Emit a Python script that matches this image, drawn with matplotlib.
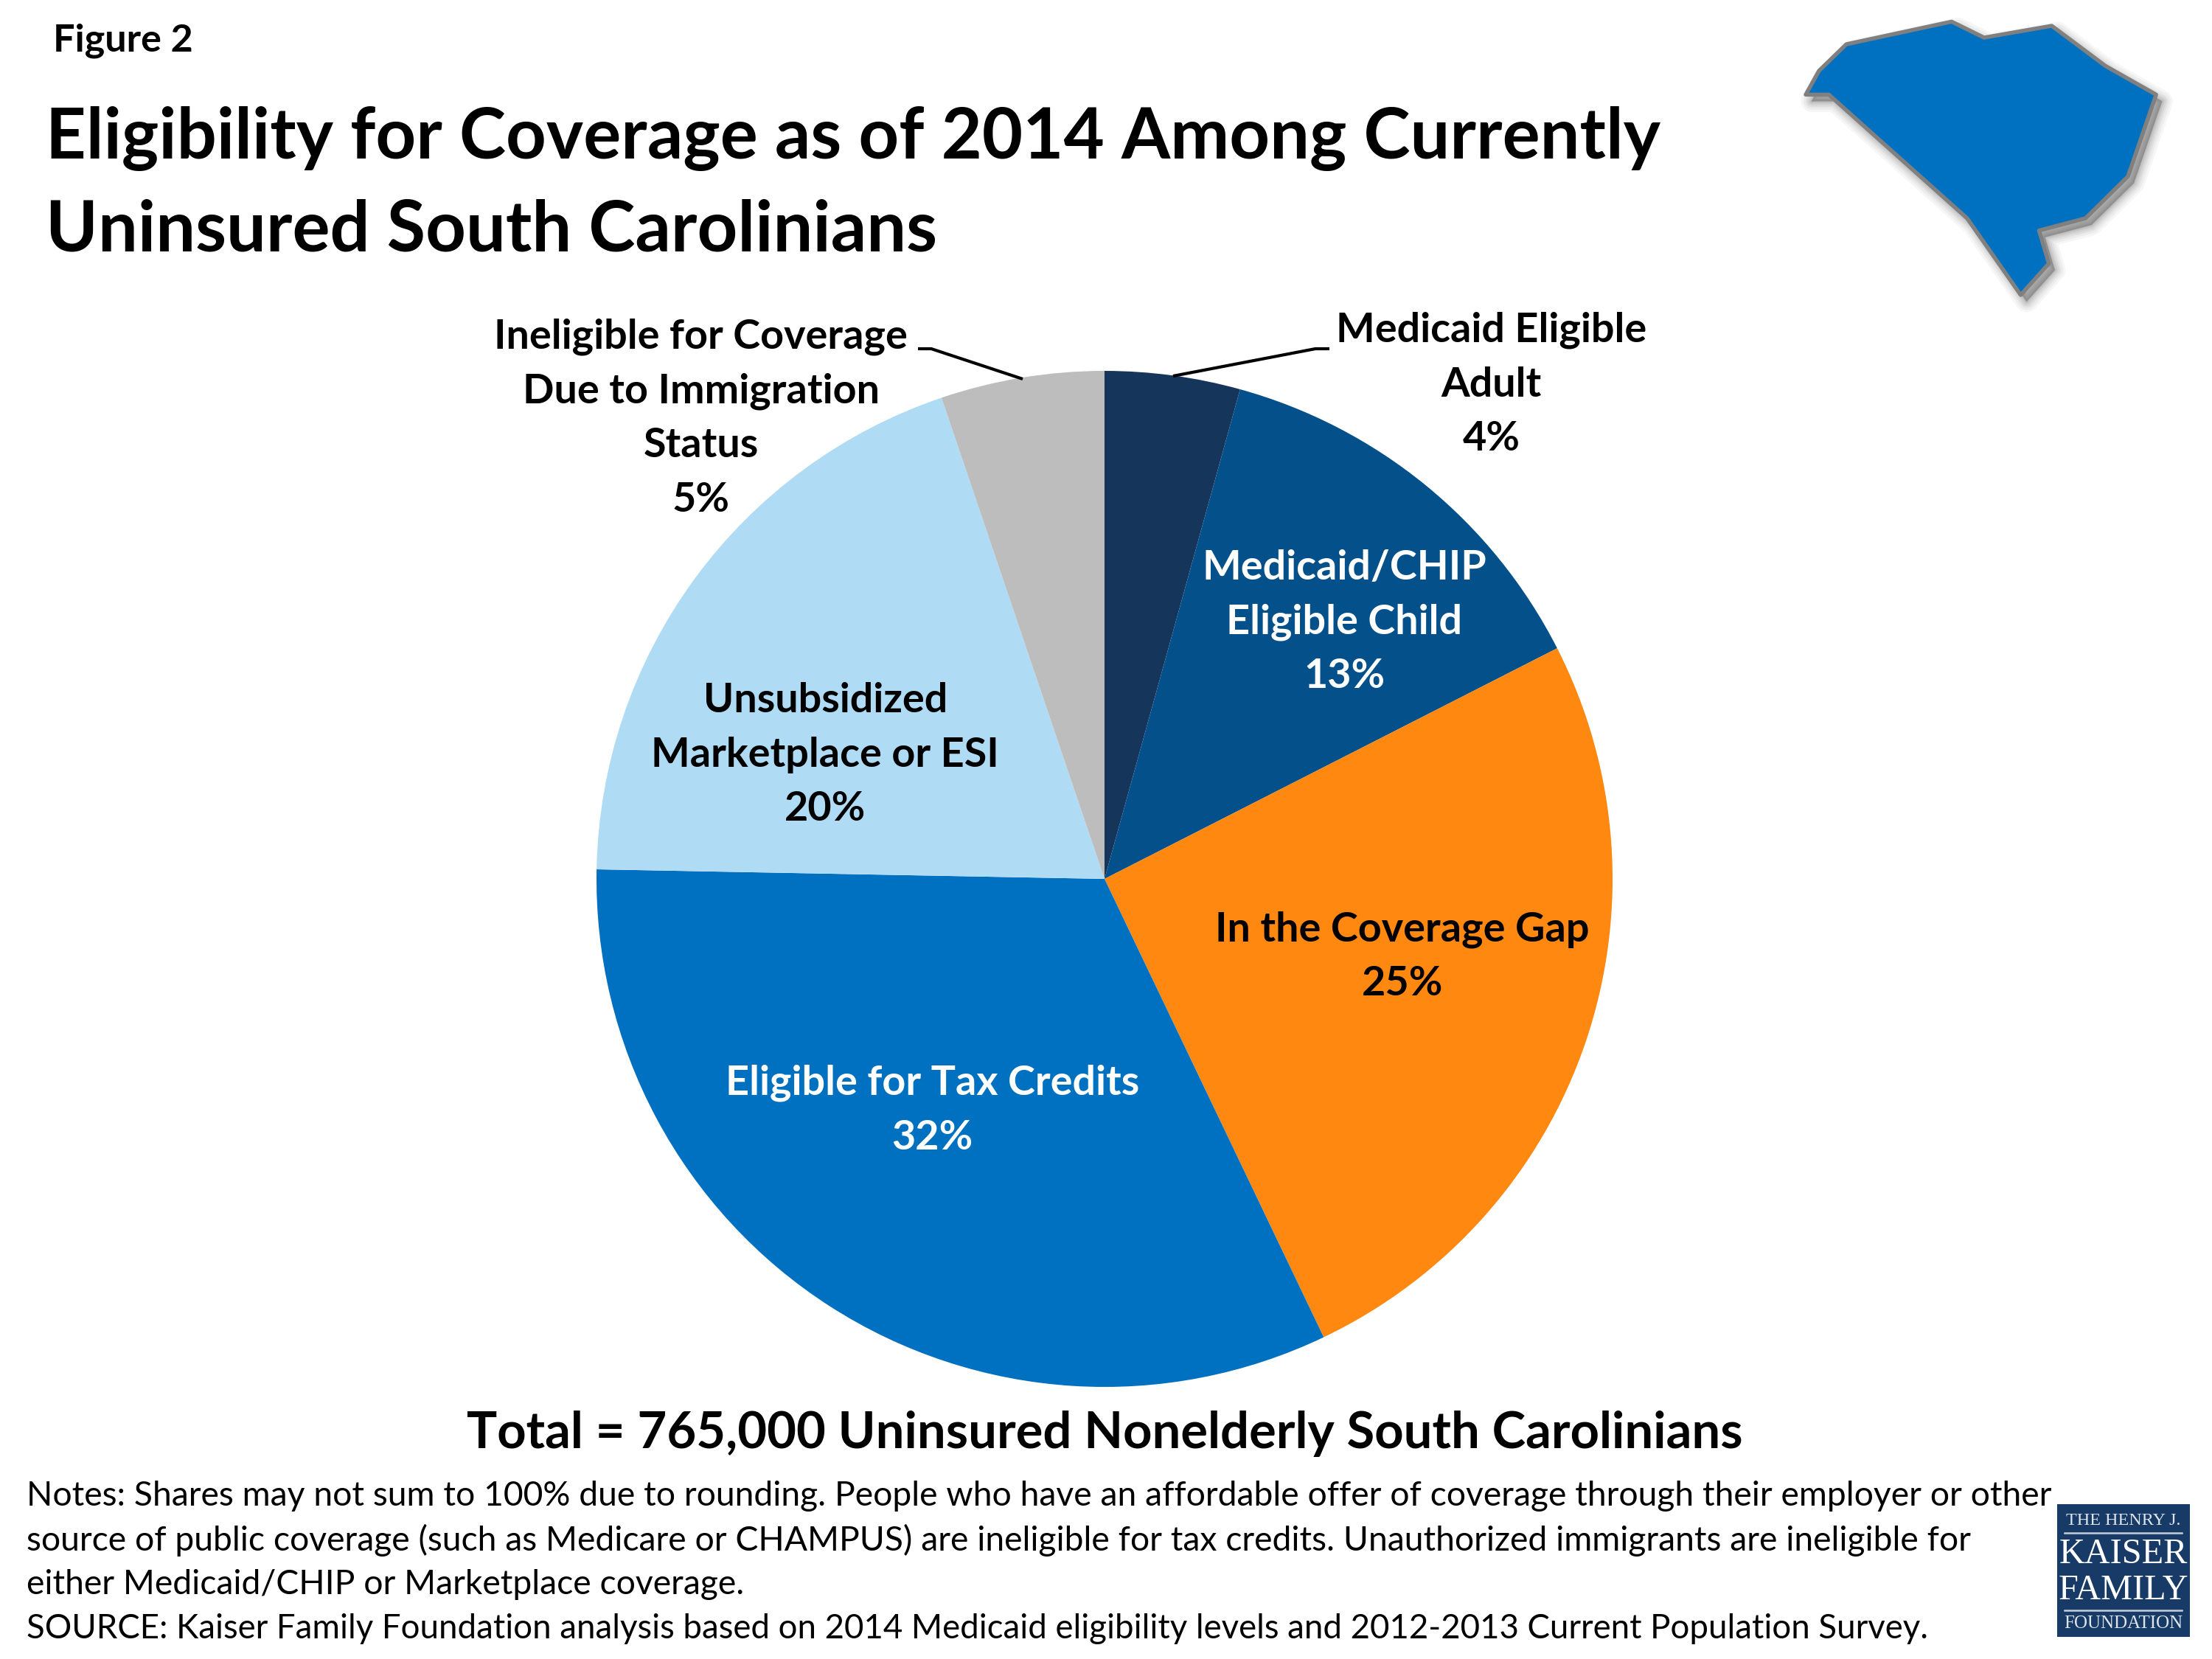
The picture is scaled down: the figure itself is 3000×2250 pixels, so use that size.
import matplotlib
matplotlib.use("Agg")
import matplotlib.pyplot as plt
from matplotlib.patches import Polygon, Rectangle

W, H = 3000, 2250
FONT = "Lato"
plt.rcParams['font.family'] = [FONT, 'DejaVu Sans']

# ---- data ----
categories = ["Medicaid Eligible Adult", "Medicaid/CHIP Eligible Child", "In the Coverage Gap",
              "Eligible for Tax Credits", "Unsubsidized Marketplace or ESI",
              "Ineligible for Coverage Due to Immigration Status"]
shares = [4.3, 13.2, 25.4, 32.4, 19.5, 5.2]
colors = ["#15355B", "#03508A", "#FF8811", "#0071C1", "#AFDCF4", "#BDBDBD"]

title_lines = ["Eligibility for Coverage as of 2014 Among Currently", "Uninsured South Carolinians"]
note_lines = [
    "Notes: Shares may not sum to 100% due to rounding. People who have an affordable offer of coverage through their employer or other",
    "source of public coverage (such as Medicare or CHAMPUS) are ineligible for tax credits. Unauthorized immigrants are ineligible for",
    "either Medicaid/CHIP or Marketplace coverage.",
    "SOURCE: Kaiser Family Foundation analysis based on 2014 Medicaid eligibility levels and 2012-2013 Current Population Survey.",
]

# decorative outline of the state
sc_zoom = [(128,385),(210,385),(700,888),(890,1200),(990,1072),(955,938),(1120,888),(1270,718),
           (1370,385),(1190,268),(1000,105),(760,153),(645,88),(272,180),(175,288)]
sc_shape = [(2400 + x*600/1568, y/3) for x, y in sc_zoom]

fig = plt.figure(figsize=(10, 7.5), dpi=300)

# pie
cx, cy, r = 1498, 1192, 689
pa = fig.add_axes([(cx-r)/W, 1-(cy+r)/H, 2*r/W, 2*r/H], zorder=0)
pa.pie(shares, colors=colors, startangle=90, counterclock=False, radius=1,
       wedgeprops=dict(linewidth=0))
pa.set_xlim(-1, 1); pa.set_ylim(-1, 1); pa.set_aspect("equal"); pa.axis("off")

bg = fig.add_axes([0, 0, 1, 1], zorder=1)
bg.set_xlim(0, W); bg.set_ylim(H, 0); bg.axis("off")

def T(x, y, s, size, color="black", weight="bold", ha="center", va="center", **kw):
    return bg.text(x, y, s, fontsize=size, color=color, fontweight=weight, ha=ha, va=va, **kw)

k = 3000/1568
# header
T(72, 55, "Figure 2", 12.5, ha="left")
T(62, 188, title_lines[0], 22.9, ha="left")
T(62, 313, title_lines[1], 22.9, ha="left")

# labels
LS = 1.57
LAB = 13.4
T(1057*k, 272.5*k, "Medicaid Eligible\nAdult\n4%", LAB, linespacing=LS)
T(953*k, 441*k, "Medicaid/CHIP\nEligible Child\n13%", LAB, color="white", linespacing=LS)
T(994*k, 678*k, "In the Coverage Gap\n25%", LAB, linespacing=LS)
T(661*k, 787*k, "Eligible for Tax Credits\n32%", LAB, color="white", linespacing=LS)
T(585*k, 535*k, "Unsubsidized\nMarketplace or ESI\n20%", LAB, linespacing=LS)
T(497*k, 296.5*k, "Ineligible for Coverage\nDue to Immigration\nStatus\n5%", LAB, linespacing=LS)

# leaders
bg.plot([1245, 1263, 1387], [473, 473, 514], color="black", lw=1.0, solid_capstyle="butt")
bg.plot([1803, 1784, 1591], [473, 473, 510], color="black", lw=1.0, solid_capstyle="butt")

# total
T(783*k, 1015*k + 3, "Total = 765,000 Uninsured Nonelderly South Carolinians", 16.5)

# notes
for s, y, sz in zip(note_lines, [2029, 2089, 2149, 2209], [11.12, 11.1, 11.1, 10.95]):
    T(36, y, s, sz, weight="normal", ha="left")

# state shape with soft shadow
for lw, a in [(7, .05), (5.5, .06), (4, .07), (2.8, .08), (1.6, .10), (.6, .12)]:
    bg.add_patch(Polygon([(x+8, y+9) for x, y in sc_shape], closed=True, fc="#505050", ec="#505050",
                         lw=lw, alpha=a, joinstyle="round"))
bg.add_patch(Polygon(sc_shape, closed=True, fc="#0071C1", ec="#808080", lw=1.3, joinstyle="round"))

# logo
navy = "#173B66"
bg.add_patch(Rectangle((2790, 2040), 180, 180, fc=navy, ec="none"))
S = "Liberation Serif"
bg.text(2880, 2063, "THE HENRY J.", fontsize=5.8, color="#DDE4EC", family=S, ha="center", va="center")
bg.plot([2800, 2959], [2079, 2079], color="#C5CFDB", lw=0.6)
bg.text(2880, 2108, "KAISER", fontsize=11.6, color="white", family=S, ha="center", va="center")
bg.text(2880, 2157, "FAMILY", fontsize=11.6, color="white", family=S, ha="center", va="center")
bg.plot([2800, 2959], [2184, 2184], color="#C5CFDB", lw=0.6)
bg.text(2880, 2202, "FOUNDATION", fontsize=6.0, color="#DDE4EC", family=S, ha="center", va="center")

fig.savefig("out.png", dpi=300, facecolor="white")
